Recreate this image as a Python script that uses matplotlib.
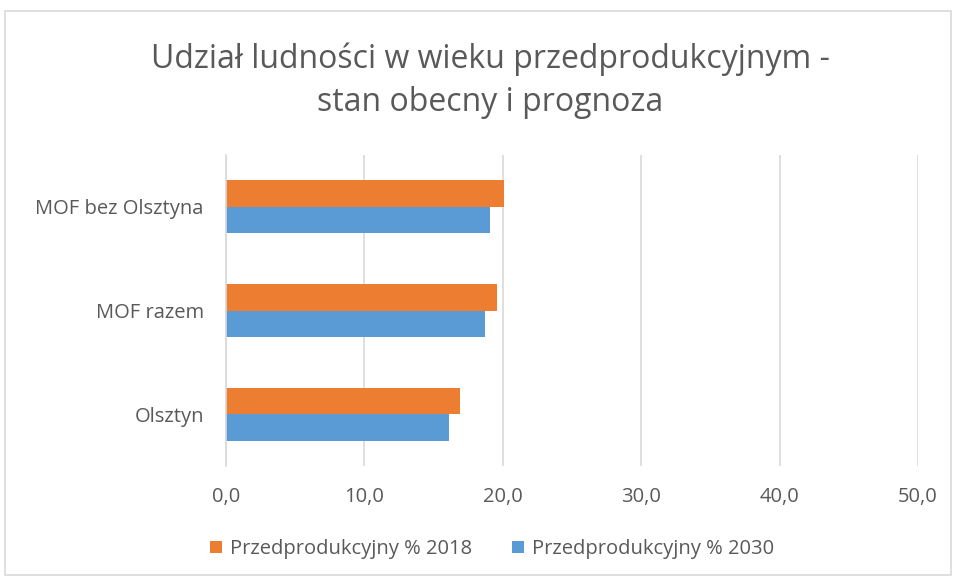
import numpy as np
import matplotlib.pyplot as plt
from matplotlib.patches import Rectangle

categories = ['Olsztyn', 'MOF razem', 'MOF bez Olsztyna']
values_2018 = [16.9, 19.6, 20.1]
values_2030 = [16.1, 18.7, 19.1]
series_labels = ['Przedprodukcyjny % 2018', 'Przedprodukcyjny % 2030']
x_ticks = [0, 10, 20, 30, 40, 50]

ORANGE = '#ED7D31'
BLUE = '#5B9BD5'
TEXT = '#595959'
GRID = '#D9D9D9'

plt.rcParams['font.family'] = ['Open Sans', 'DejaVu Sans']

fig = plt.figure(figsize=(9.57, 5.8), dpi=100)
fig.patches.append(Rectangle((5 / 957, 5 / 580), 946 / 957, 564 / 580,
                             transform=fig.transFigure, fill=False,
                             edgecolor=GRID, linewidth=1.2))
ax = fig.add_axes([226 / 957, 1 - 466 / 580, 692 / 957, 311 / 580])

y = np.arange(len(categories))
h = 0.256
ax.barh(y + h / 2, values_2018, height=h, color=ORANGE, label=series_labels[0])
ax.barh(y - h / 2, values_2030, height=h, color=BLUE, label=series_labels[1])

ax.set_xlim(0, 50)
ax.set_ylim(-0.5, 2.5)
ax.set_xticks(x_ticks)
ax.set_xticklabels([f'{v:.1f}'.replace('.', ',') for v in x_ticks])
ax.set_yticks(y)
ax.set_yticklabels(categories)
ax.tick_params(axis='both', length=0, labelsize=14.5, colors=TEXT)
ax.tick_params(axis='x', pad=15)
ax.tick_params(axis='y', pad=16)
ax.grid(axis='x', color=GRID, linewidth=1.2)
ax.set_axisbelow(True)
for s in ['top', 'right', 'bottom']:
    ax.spines[s].set_visible(False)
ax.spines['left'].set_color(GRID)
ax.spines['left'].set_linewidth(1.2)

fig.text(490 / 957, 1 - 81 / 580, 'Udział ludności w wieku przedprodukcyjnym -\nstan obecny i prognoza',
         ha='center', va='center', fontsize=23, color=TEXT, linespacing=1.4)

fig.legend(loc='center', bbox_to_anchor=(492 / 957, 1 - 549 / 580), ncol=2,
           frameon=False, fontsize=14.5, labelcolor=TEXT, handlelength=0.6,
           handleheight=0.6, handletextpad=0.4, columnspacing=2.0)

fig.savefig('out.png', dpi=100)
